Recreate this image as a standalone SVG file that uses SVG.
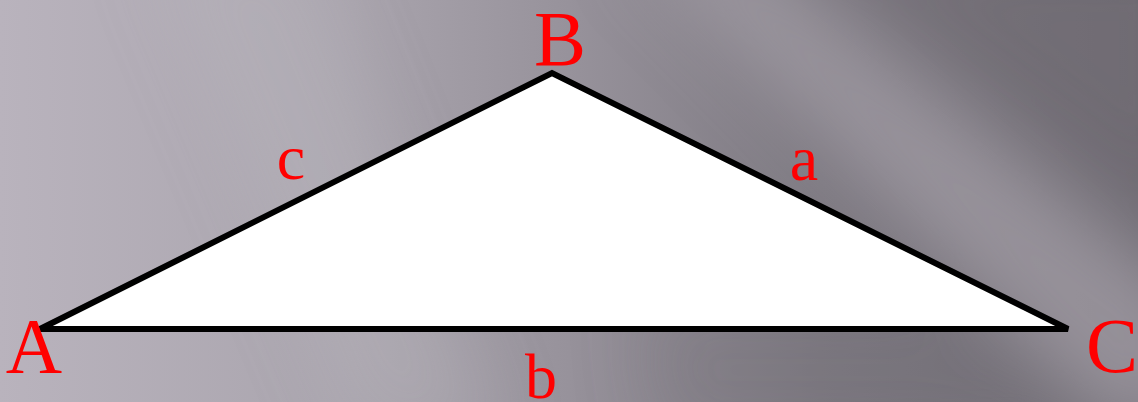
<svg xmlns="http://www.w3.org/2000/svg" width="1138" height="402" viewBox="0 0 1138 402">
  <defs>
    <linearGradient id="base" x1="0" y1="0" x2="1138" y2="0" gradientUnits="userSpaceOnUse">
      <stop offset="0" stop-color="#b9b3bd"/>
      <stop offset="0.3" stop-color="#aaa5ae"/>
      <stop offset="0.5" stop-color="#97929b"/>
      <stop offset="0.72" stop-color="#7e7a82"/>
      <stop offset="1" stop-color="#6f6b73"/>
    </linearGradient>
    <filter id="blur" x="-20%" y="-20%" width="140%" height="140%">
      <feGaussianBlur stdDeviation="35"/>
    </filter>
    <style>
      .lbl { fill: #ff0000; font-family: "Liberation Serif", "Times New Roman", serif; text-anchor: middle; }
      .cap { font-size: 78px; }
      .low { font-size: 64px; }
      .tri { fill: #ffffff; stroke: #000000; stroke-width: 6; }
    </style>
  </defs>
  <g id="background">
    <rect x="0" y="0" width="1138" height="402" fill="url(#base)"/>
    <g filter="url(#blur)">
      <polygon points="630,-60 735,-60 1200,300 1200,430 1110,430" fill="#a19ca5" opacity="0.75"/>
      <polygon points="790,-60 1200,-60 1200,250" fill="#706c74" opacity="0.5"/>
      <polygon points="150,-60 300,-60 500,440 360,440" fill="#bdb8c1" opacity="0.3"/>
      <polygon points="640,300 1000,300 1060,440 660,440" fill="#726e76" opacity="0.3"/>
    </g>
  </g>
  <g id="triangle">
    <polygon class="tri" points="40,329 552,73 1068,329"/>
  </g>
  <g id="connectors"/>
  <g id="labels">
    <text id="label-A" class="lbl cap" x="34" y="372">A</text>
    <text id="label-B" class="lbl cap" x="560" y="65">B</text>
    <text id="label-C" class="lbl cap" x="1112" y="372">C</text>
    <text id="label-c" class="lbl low" x="291" y="179">c</text>
    <text id="label-a" class="lbl low" x="804" y="180">a</text>
    <text id="label-b" class="lbl low" x="541" y="398">b</text>
  </g>
</svg>
